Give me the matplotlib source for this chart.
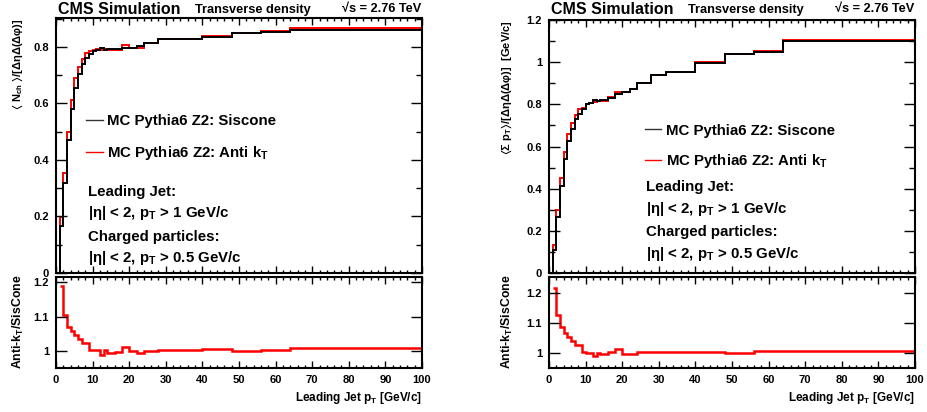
import numpy as np
import matplotlib
matplotlib.use("Agg")
import matplotlib.pyplot as plt
from matplotlib.lines import Line2D
from matplotlib.ticker import MultipleLocator, FixedLocator, FormatStrFormatter

plt.rcParams["font.family"] = ["Liberation Sans", "DejaVu Sans"]
plt.rcParams["font.weight"] = "bold"
plt.rcParams["mathtext.fontset"] = "custom"
plt.rcParams["mathtext.rm"] = "Liberation Sans:bold"
plt.rcParams["mathtext.it"] = "Liberation Sans:bold"
plt.rcParams["mathtext.bf"] = "Liberation Sans:bold"
plt.rcParams["mathtext.sf"] = "Liberation Sans:bold"
plt.rcParams["mathtext.fallback"] = "stixsans"

# leading jet pT bin edges [GeV/c]
pt_edges = [0, 1, 2, 3, 4, 5, 6, 7, 8, 9, 10, 11, 12, 13, 14, 16, 18, 20,
            22, 24, 28, 32, 40, 48, 56, 64, 100]

# <N_ch> transverse density
nch_siscone = [0, 0.165, 0.32, 0.47, 0.58, 0.655, 0.705, 0.74, 0.762, 0.776,
               0.785, 0.79, 0.797, 0.79, 0.792, 0.793, 0.796, 0.797, 0.802,
               0.813, 0.826, 0.826, 0.834, 0.849, 0.854, 0.861]
nch_antikt = [0, 0.198, 0.355, 0.5, 0.612, 0.688, 0.73, 0.757, 0.778, 0.787,
              0.788, 0.792, 0.79, 0.792, 0.788, 0.79, 0.806, 0.797, 0.797,
              0.814, 0.828, 0.828, 0.839, 0.849, 0.857, 0.868]
nch_ratio = [1.19, 1.104, 1.07, 1.058, 1.047, 1.036, 1.023, 1.023, 1.004,
             1.004, 1.003, 0.99, 1.002, 0.995, 0.996, 1.012, 1.0, 0.995,
             1.001, 1.003, 1.003, 1.006, 1.0, 1.004, 1.009]

# <sum pT> transverse density
sumpt_siscone = [0, 0.11, 0.265, 0.415, 0.54, 0.625, 0.685, 0.73, 0.755, 0.78,
                 0.8, 0.805, 0.82, 0.815, 0.82, 0.832, 0.848, 0.86, 0.875,
                 0.9, 0.937, 0.951, 0.997, 1.04, 1.048, 1.1]
sumpt_antikt = [0, 0.134, 0.298, 0.452, 0.576, 0.66, 0.713, 0.75, 0.776, 0.783,
                0.801, 0.806, 0.812, 0.814, 0.816, 0.834, 0.86, 0.858, 0.871,
                0.903, 0.941, 0.955, 1.001, 1.039, 1.053, 1.105]
sumpt_ratio = [1.215, 1.126, 1.086, 1.066, 1.054, 1.041, 1.027, 1.027, 1.004,
               1.001, 1.001, 0.991, 0.999, 0.995, 1.002, 1.012, 0.998, 0.995,
               1.004, 1.004, 1.004, 1.004, 0.999, 1.005, 1.005]

W, H = 928, 412
fig = plt.figure(figsize=(W / 100, H / 100), dpi=100)


def px(x, y):
    return x / W, 1 - y / H


def style(ax, ymajor, yminor, xlabels):
    ax.set_xlim(0, 100)
    ax.xaxis.set_major_locator(MultipleLocator(10))
    ax.xaxis.set_minor_locator(MultipleLocator(2))
    ax.yaxis.set_major_locator(FixedLocator(ymajor))
    if yminor:
        ax.yaxis.set_minor_locator(MultipleLocator(yminor))
    else:
        ax.yaxis.set_minor_locator(FixedLocator([]))
    ax.yaxis.set_major_formatter(FormatStrFormatter("%g"))
    ax.tick_params(which="both", direction="in", top=True, right=True,
                   labelsize=8, width=1.0)
    ax.tick_params(axis="y", which="major", length=8, pad=5)
    ax.tick_params(axis="y", which="minor", length=4)
    ax.tick_params(axis="x", which="major", length=5, pad=5)
    ax.tick_params(axis="x", which="minor", length=2.5)
    if not xlabels:
        ax.tick_params(axis="x", labelbottom=False)
    for s in ax.spines.values():
        s.set_linewidth(1.5)


def panel(x0, x1, ytop, sis, akt, ratio, ylim, ymajor, rlim, ylab,
          ylab_x, leg_xy, leg_sp, txt_x, txt_ys):
    ax = fig.add_axes([x0 / W, 1 - 273 / H, (x1 - x0) / W, (273 - ytop) / H])
    ax.stairs(akt, pt_edges, baseline=None, color="red", lw=1.4)
    ax.stairs(sis, pt_edges, baseline=None, color="black", lw=1.4)
    ax.set_ylim(*ylim)
    style(ax, ymajor, 0.1, False)

    handles = [Line2D([], [], color="#333333", lw=1.0),
               Line2D([], [], color="red", lw=1.0)]
    ax.legend(handles, ["MC Pythia6 Z2: Siscone",
                        "MC Pythia6 Z2: Anti k$_{\\mathrm{T}}$"],
              loc="upper left", bbox_to_anchor=leg_xy, frameon=False,
              fontsize=10.8, handlelength=1.1, handletextpad=0.3,
              labelspacing=leg_sp, borderaxespad=0, borderpad=0)

    lines = ["Leading Jet:",
             "|η| < 2, p$_{\\mathrm{T}}$ > 1 GeV/c",
             "Charged particles:",
             "|η| < 2, p$_{\\mathrm{T}}$ > 0.5 GeV/c"]
    for t, yy in zip(lines, txt_ys):
        ax.text(txt_x, yy, t, transform=ax.transAxes, fontsize=10.8,
                fontweight="bold", ha="left", va="center")

    rax = fig.add_axes([x0 / W, 1 - 368 / H, (x1 - x0) / W, 91 / H])
    rax.stairs(ratio, pt_edges[1:], baseline=None, color="red", lw=1.8)
    rax.set_ylim(*rlim)
    style(rax, [1.0, 1.1, 1.2], None, True)
    rax.set_xlabel("Leading Jet p$_{\\mathrm{T}}$ [GeV/c]", fontsize=8.5,
                   fontweight="bold", loc="right", labelpad=4)

    fig.text(*px(ylab_x, ytop), ylab, rotation=90, ha="center", va="top",
             fontsize=8, fontweight="bold")
    fig.text(*px(ylab_x, 322), "Anti-k$_{\\mathrm{T}}$/SisCone", rotation=90,
             ha="center", va="center", fontsize=8.8, fontweight="bold")

    fig.text(*px(x0 + 2, 13.5), "CMS Simulation", fontsize=11.5,
             fontweight="bold", ha="left", va="baseline")
    fig.text(*px(x0 + 139, 12.5), "Transverse density", fontsize=9.2,
             fontweight="bold", ha="left", va="baseline")
    fig.text(*px(x1 - 1, 12.5), "√s = 2.76 TeV", fontsize=9.2,
             fontweight="bold", ha="right", va="baseline")
    return ax, rax


panel(56, 422, 18, nch_siscone, nch_antikt, nch_ratio,
      (0, 0.902), [0, 0.2, 0.4, 0.6, 0.8], (0.951, 1.215),
      "$\\langle$ N$_{\\mathrm{ch}}$ $\\rangle$/[ΔηΔ(Δφ)]", 18,
      (0.082, 0.622), 1.05, 0.087, [0.318, 0.235, 0.141, 0.059])

panel(549, 915, 20, sumpt_siscone, sumpt_antikt, sumpt_ratio,
      (0, 1.2), [0, 0.2, 0.4, 0.6, 0.8, 1.0, 1.2], (0.95, 1.253),
      "$\\langle$Σ p$_{\\mathrm{T}}$$\\rangle$/[ΔηΔ(Δφ)]  [GeV/c]", 507,
      (0.262, 0.59), 0.95, 0.265, [0.341, 0.253, 0.162, 0.075])

fig.savefig("out.png", dpi=100)
